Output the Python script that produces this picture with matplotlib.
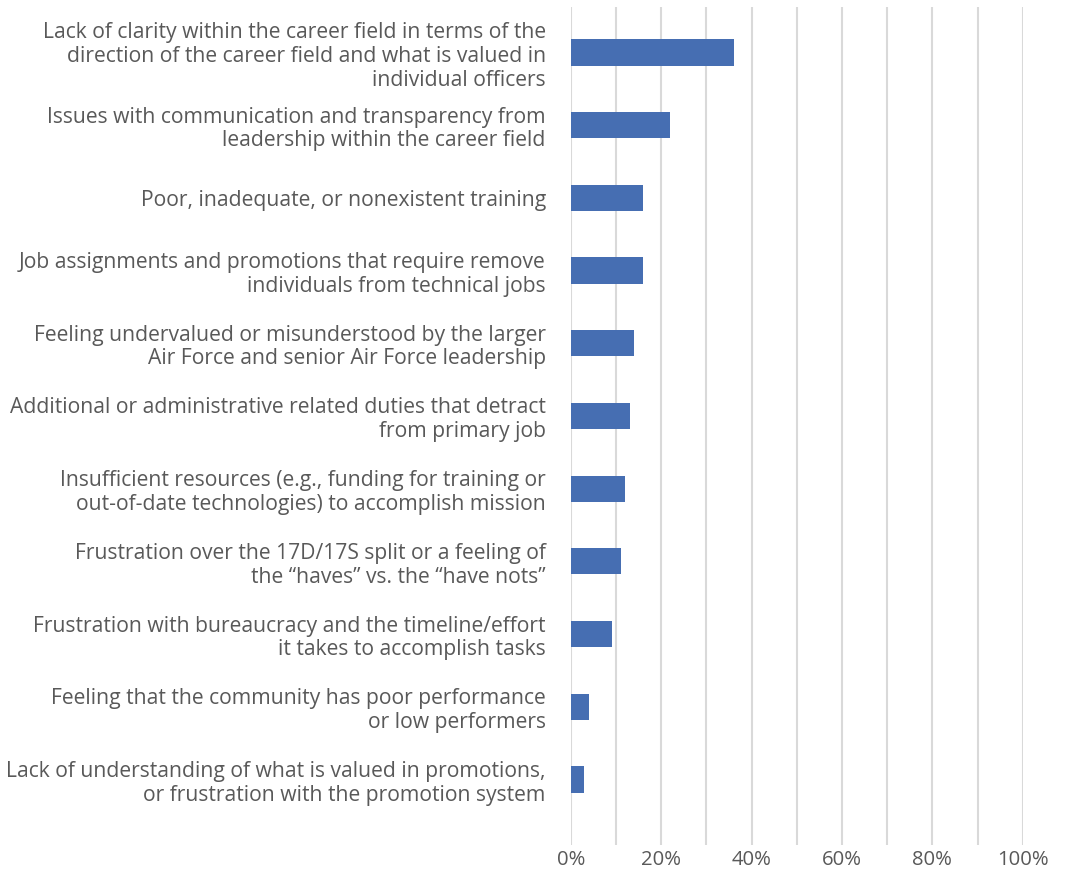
import matplotlib.pyplot as plt
from matplotlib.ticker import PercentFormatter

plt.rcParams['font.family'] = ['Open Sans', 'DejaVu Sans']

# concerns, top of the chart first
concerns = [
    "Lack of clarity within the career field in terms of the\ndirection of the career field and what is valued in\nindividual officers",
    "Issues with communication and transparency from\nleadership within the career field",
    "Poor, inadequate, or nonexistent training",
    "Job assignments and promotions that require remove\nindividuals from technical jobs",
    "Feeling undervalued or misunderstood by the larger\nAir Force and senior Air Force leadership",
    "Additional or administrative related duties that detract\nfrom primary job",
    "Insufficient resources (e.g., funding for training or\nout-of-date technologies) to accomplish mission",
    "Frustration over the 17D/17S split or a feeling of\nthe \u201chaves\u201d vs. the \u201chave nots\u201d",
    "Frustration with bureaucracy and the timeline/effort\nit takes to accomplish tasks",
    "Feeling that the community has poor performance\nor low performers",
    "Lack of understanding of what is valued in promotions,\nor frustration with the promotion system",
]
share = [0.36, 0.22, 0.16, 0.16, 0.14, 0.13, 0.12, 0.11, 0.09, 0.04, 0.03]

fig = plt.figure(figsize=(10.65, 8.71), dpi=100)
ax = fig.add_axes([0.536, 0.030, 0.4244, 0.962])

pos = list(range(len(concerns)))
ax.barh(pos, share, height=0.36, color='#466EB2', zorder=3)

ax.set_xlim(0, 1)
ax.set_ylim(10.9, -0.626)
ax.set_xticks([i / 10 for i in range(11)], minor=True)
ax.set_xticks([0, 0.2, 0.4, 0.6, 0.8, 1.0])
ax.xaxis.set_major_formatter(PercentFormatter(1.0, decimals=0))
ax.grid(axis='x', which='both', color='#D9D9D9', linewidth=1.5, zorder=0)

ax.set_yticks(pos)
ax.set_yticklabels(concerns, ha='right', linespacing=1.17)
ax.tick_params(axis='y', length=0, pad=18, labelsize=15.2, labelcolor='#595959')
ax.tick_params(axis='x', which='both', length=0, pad=4, labelsize=14.6, labelcolor='#595959')

for s in ax.spines.values():
    s.set_visible(False)

fig.savefig('out.png', dpi=100)
